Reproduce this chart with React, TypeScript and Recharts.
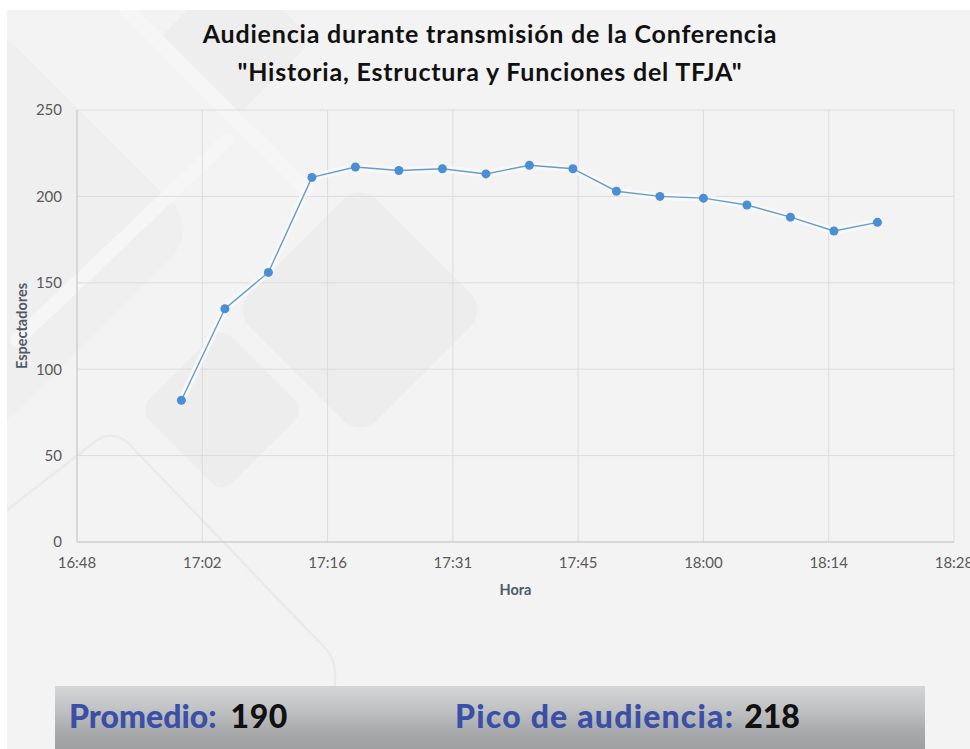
import React from 'react';
import { LineChart, Line, XAxis, YAxis, CartesianGrid, Label } from 'recharts';

// hora de cada lectura
const horas = [
  '17:00', '17:05', '17:10', '17:15', '17:20', '17:25', '17:30', '17:35', '17:40',
  '17:45', '17:50', '17:55', '18:00', '18:05', '18:10', '18:15', '18:20',
];
const espectadores = [82, 135, 156, 211, 217, 215, 216, 213, 218, 216, 203, 200, 199, 195, 188, 180, 185];

// eje de fechas tipo Excel: dias, unidad mayor 0.01
const xTicks = [0.7, 0.71, 0.72, 0.73, 0.74, 0.75, 0.76, 0.77];
const yTicks = [0, 50, 100, 150, 200, 250];

const toDay = (hhmm: string) => {
  const [h, m] = hhmm.split(':').map(Number);
  return (h * 60 + m) / 1440;
};

const fmtHora = (v: number) => {
  const min = Math.floor(v * 1440 + 1e-6);
  const h = Math.floor(min / 60);
  const m = min % 60;
  return `${h}:${m < 10 ? '0' + m : m}`;
};

const data = horas.map((h, i) => ({ t: toDay(h), v: espectadores[i] }));
const promedio = Math.round(espectadores.reduce((a, b) => a + b, 0) / espectadores.length);
const pico = Math.max(...espectadores);

const FONT = 'Lato, "Open Sans", sans-serif';
const tickStyle = { fill: '#595959', fontSize: 15, fontFamily: FONT };
const axisTitle = { fill: '#505a66', fontSize: 14.5, fontWeight: 700, fontFamily: FONT };

const Diamante = ({ cx, cy, s, fill }: { cx: number; cy: number; s: number; fill: string }) => (
  <rect
    x={-s / 2}
    y={-s / 2}
    width={s}
    height={s}
    rx={s * 0.13}
    fill={fill}
    transform={`translate(${cx} ${cy}) rotate(45)`}
  />
);

const Fondo = () => (
  <svg width={963} height={739} style={{ position: 'absolute', left: 7, top: 10 }}>
    <rect x={0} y={0} width={963} height={739} fill="#f3f3f3" />
    <Diamante cx={-20} cy={220} s={300} fill="#efefef" />
    <Diamante cx={228} cy={30} s={110} fill="#eeeeee" />
    <Diamante cx={353} cy={300} s={180} fill="#ededed" />
    <Diamante cx={215} cy={400} s={118} fill="#ededed" />
    <g fill="none" stroke="#f6f6f6" strokeWidth={14} strokeLinecap="round">
      <path d="M 120 0 L 300 180" />
      <path d="M 10 330 L 220 130" />
    </g>
    <path
      d="M 0 500 L 90 430 Q 105 420 120 432 L 320 640 Q 328 650 328 665 L 328 739"
      fill="none"
      stroke="#eaeaea"
      strokeWidth={2.5}
    />
  </svg>
);

export default function App() {
  return (
    <div style={{ position: 'absolute', left: 0, top: 0, width: 970, height: 749, background: '#fff', overflow: 'hidden' }}>
      <Fondo />
      <div
        style={{
          position: 'absolute', left: 0, top: 14, width: 980, textAlign: 'center',
          fontFamily: FONT, fontWeight: 700, fontSize: 25, letterSpacing: 0.8, lineHeight: '38px', color: '#111',
        }}
      >
        Audiencia durante transmisión de la Conferencia
        <br />
        "Historia, Estructura y Funciones del TFJA"
      </div>
      <div style={{ position: 'absolute', left: 0, top: 0 }}>
        <LineChart width={970} height={749} data={data} margin={{ top: 110, right: 16, left: 17, bottom: 149 }}>
          <CartesianGrid stroke="#dcdcdc" horizontalValues={yTicks} verticalValues={xTicks} />
          <XAxis
            dataKey="t"
            type="number"
            domain={[0.7, 0.77]}
            ticks={xTicks}
            interval={0}
            tickFormatter={fmtHora}
            tick={tickStyle}
            tickLine={false}
            tickSize={0}
            tickMargin={15}
            axisLine={{ stroke: '#c9c9c9' }}
            height={58}
          >
            <Label value="Hora" position="insideBottom" offset={5} style={axisTitle} />
          </XAxis>
          <YAxis
            type="number"
            domain={[0, 250]}
            ticks={yTicks}
            interval={0}
            tick={tickStyle}
            tickLine={false}
            tickSize={0}
            tickMargin={15}
            axisLine={{ stroke: '#c9c9c9' }}
            width={60}
          >
            <Label
              value="Espectadores"
              angle={-90}
              position="insideLeft"
              offset={5}
              style={{ ...axisTitle, textAnchor: 'middle' }}
            />
          </YAxis>
          <Line
            dataKey="v"
            stroke="#f8fafc"
            strokeWidth={7}
            strokeOpacity={0.9}
            dot={false}
            activeDot={false}
            isAnimationActive={false}
          />
          <Line
            dataKey="v"
            stroke="#6b9bcb"
            strokeWidth={1.4}
            dot={{ r: 4.5, fill: '#4a8ed3', stroke: 'none' }}
            activeDot={false}
            isAnimationActive={false}
          />
        </LineChart>
      </div>
      <div
        style={{
          position: 'absolute', left: 55, top: 686, width: 870, height: 63,
          background: 'linear-gradient(180deg, #d4d5d6 0%, #c2c3c4 35%, #a6a8a9 75%, #9d9fa0 100%)',
          fontFamily: FONT, fontWeight: 900, fontSize: 32, lineHeight: '32px',
        }}
      >
        <div style={{ position: 'absolute', left: 14, top: 14, whiteSpace: 'nowrap' }}>
          <span style={{ color: '#3a4fa8' }}>Promedio:</span>
          <span style={{ color: '#111', marginLeft: 14, letterSpacing: 0.5 }}>{promedio}</span>
        </div>
        <div style={{ position: 'absolute', left: 400, top: 14, whiteSpace: 'nowrap' }}>
          <span style={{ color: '#3a4fa8', letterSpacing: 1.2 }}>Pico de audiencia:</span>
          <span style={{ color: '#111', marginLeft: 10 }}>{pico}</span>
        </div>
      </div>
    </div>
  );
}
